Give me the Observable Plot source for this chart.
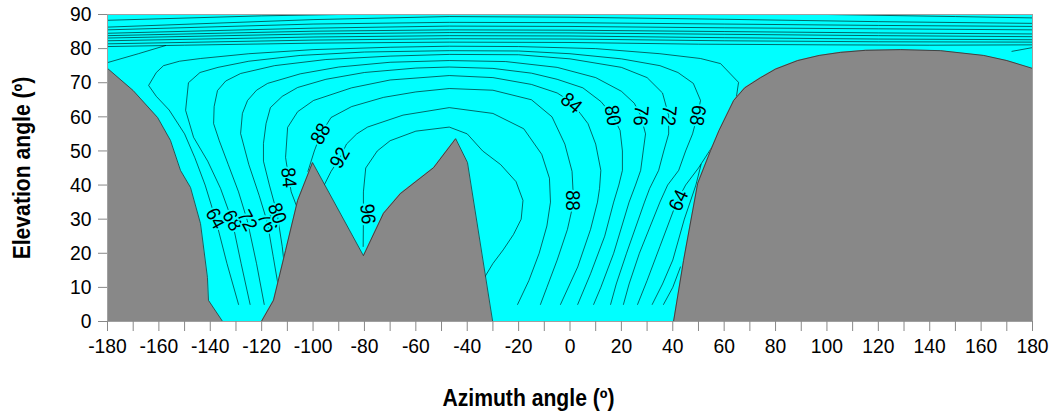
<!DOCTYPE html>
<html><head><meta charset="utf-8">
<script src="https://cdn.jsdelivr.net/npm/d3@7"></script>
<script src="https://cdn.jsdelivr.net/npm/@observablehq/plot@0.6"></script>
<style>
body{margin:0;background:#fff;}
#chart{width:1056px;height:414px;}
</style></head><body><div id="chart"></div>
<script>
// Horizon profile (azimuth º, elevation º)
const horizonAz = [-180,-170,-160.5,-155.5,-151.6,-147.7,-143.8,-141.1,-140.7,-135.2,-120.1,-115.4,-110.7,-106,-100.2,-80.4,-72.6,-66,-53.1,-44.5,-39.9,-30.1,40.3,44.2,49.7,54.7,58,63.7,68,74.2,80,88.6,97,105.3,115,128.7,144.2,161,170,180];
const horizonEl = [74.2,67.7,59.8,53.1,44.3,39.3,28.7,12.9,6.2,0,0,6.2,20.8,35.5,46.6,19.3,31.7,37.5,45.1,53.6,46.6,0,0,17.9,40.5,50.1,56,64.8,68.5,71.5,74,76.5,78,78.9,79.5,79.7,79.4,78,76.5,74.2];

// Contour lines [azimuth, elevation]
const c96 = [[-80.5,22],[-80.4,30],[-80.4,38],[-79.5,45],[-75,50],[-70,53],[-60,55.8],[-47,57],[-40,55],[-34,50],[-27,46],[-21,41],[-18.3,35.5],[-19,30],[-22,25.5],[-26,21],[-30,17],[-34,12]];
const c92 = [[-97,38],[-93,44],[-89.5,48],[-87,52],[-83,55],[-78.8,57],[-65,60.5],[-47,62.7],[-30,61],[-18,56.5],[-11,49],[-8,42],[-7.6,35],[-9,28],[-12,20],[-16,12],[-20.4,5]];
const c88 = [[-102,44],[-99.5,50],[-97,55],[-93,59.8],[-85,63],[-72.6,65.7],[-60,67.3],[-47,68.3],[-30,67.8],[-15,65],[-7,60],[-2,52],[0.8,44],[1.4,35],[-1,27],[-5,18],[-9,10],[-11.5,5]];
const c84 = [[-106,33],[-108.5,38],[-109.5,42.2],[-110.7,48.1],[-109.9,56.9],[-106,61.5],[-99.8,64.8],[-85,68.5],[-70,70.8],[-47,72.1],[-30,71.5],[-15,69.5],[-5,67],[0.2,64.5],[4,61],[7,58],[10,52],[12,44.3],[11.5,39],[10.7,35],[8,27],[3,16],[-3.7,5]];
const c80 = [[-110.5,12],[-112,22],[-114,31.7],[-117,40],[-119.3,47],[-119.3,52.2],[-118.3,58],[-116.6,62.7],[-112,66],[-106,68.6],[-95,71],[-80,73],[-60,74.3],[-47,74.6],[-30,74.2],[-15,72.8],[-5,71],[5,68.5],[12,64.5],[16.6,60.4],[19.5,56],[20.4,50],[20.4,44.3],[19,40],[17,35],[13.5,25],[8,14],[3,5]];
const c76 = [[-113,8],[-115.5,19],[-117.8,29.1],[-121,37],[-125,46],[-128.2,55.1],[-127.5,61],[-125.5,64.8],[-122,67.8],[-117.7,69.8],[-105,72.6],[-90,74.6],[-70,76],[-47,76.5],[-25,76.2],[-5,74.5],[10,71.5],[20,67.5],[25,64],[27.5,60.4],[29.4,55],[28.5,50],[27.5,44.3],[25.5,40],[23,35],[17,20],[12,10],[9.2,5]];
const c72 = [[-119,5],[-122,17],[-125.6,29.6],[-129,38],[-133,46],[-136.5,53],[-138.7,58],[-138.5,63],[-137.2,67.7],[-134,70.5],[-128.2,72.7],[-115,75],[-95,76.8],[-70,77.8],[-47,78.3],[-20,78.2],[0,77],[20,74.5],[30,71.5],[36,67],[38.4,60.4],[38.4,55],[36.5,50],[34.5,44.3],[31,39],[29,35],[22,20],[18,11],[15.8,5]];
const c68 = [[-124.5,5],[-128,17],[-131.5,29.6],[-136,39],[-141,47],[-146.5,54],[-149.6,61.9],[-148.5,70],[-144,73],[-137,74.5],[-125,76.3],[-105,78],[-80,79],[-47,79.4],[-20,79.3],[0,78.5],[20,77],[35,75],[42,73],[48,69.8],[50.8,64.8],[49.6,60.4],[47.7,55],[45,50],[42.3,44.3],[38,40],[35,35],[27,20],[23,11],[20.8,5]];
const c64 = [[-129,5],[-133.5,17],[-138,30.2],[-142,40],[-146,48],[-150,55],[-156,62],[-161,66],[-164,69.2],[-161,73],[-158.2,75],[-152,76.3],[-143.8,77.1],[-125,78.5],[-100,79.7],[-70,80.4],[-47,80.7],[-20,80.6],[10,80],[35,78.5],[50.8,77.1],[58.6,75.6],[65.6,70.1],[64,62],[56,52],[50,45],[45,40],[41.5,35],[35,22],[30,12],[26.3,5]];
const c60 = [[-180,80.6],[-150,81],[-100,81.6],[-47,81.9],[0,81.8],[50,81.3],[100,81.1],[140,81],[180,81.1]];
const c60b = [[32,5],[36,11],[40,18],[44.5,30],[49,40],[51,46]];
const c56 = [[-180,81.4],[-100,82.5],[-47,82.9],[0,82.8],[60,82.3],[120,82],[180,81.9]];
const c56b = [[36.4,5],[40,10],[43,16]];
const c52 = [[-180,82.3],[-100,83.4],[-47,83.8],[0,83.7],[60,83.2],[120,82.8],[180,82.6]];
const c48 = [[-180,83.1],[-100,84.3],[-47,84.7],[0,84.6],[60,84.2],[120,83.8],[180,83.5]];
const c44 = [[-180,83.8],[-100,85.1],[-47,85.5],[0,85.4],[60,85],[120,84.6],[180,84.3]];
const c40 = [[-180,84.5],[-100,86],[-47,86.6],[0,86.5],[60,86.1],[120,85.8],[180,85.5]];
const c36 = [[-180,85.5],[-100,87.2],[-47,87.7],[0,87.6],[60,87.2],[120,86.8],[180,86.5]];
const c32 = [[-180,86.3],[-100,88.5],[-47,89.4],[0,89.2],[60,88.6],[120,87.9],[180,87.4]];
const c28a = [[-180,88.3],[-120,89.6],[-90,90]];
const c28b = [[100,90],[150,89.4],[180,89]];
const c64c = [[-180,75.9],[-168,78.5],[-157.4,80.9]];
const c64d = [[172,79.2],[180,80.3]];

// Contour labels
const labelText = ["64","68","72","76","80","84","88","92","96","84","80","76","72","68","88","64"];
const labelAz   = [-138,-131.5,-125.6,-117.8,-114,-109.5,-97,-89.5,-78.8,0.5,16.6,27.5,38.4,49.6,1,42.3];
const labelEl   = [30.2,29.6,29.6,29.1,31.7,42.2,55,48,31.5,64,60.4,60.4,60.4,60.4,35.5,35.5];
const labelRot  = [62,62,62,62,70,85,-60,-60,85,40,80,95,95,100,90,-65];

const xTicks = d3.range(-180, 181, 10);
const yTicks = d3.range(0, 91, 10);

const lines = [c96,c92,c88,c84,c80,c76,c72,c68,c64,c60,c60b,c56,c56b,c52,c48,c44,c40,c36,c32,c28a,c28b,c64c,c64d];
const lineRows = lines.flatMap((pts, i) => pts.map(([az, el]) => ({id: i, az, el})));
const horizonRows = horizonAz.map((az, i) => ({az, el: horizonEl[i]}));
const labelRows = labelText.map((t, i) => ({t, az: labelAz[i], el: labelEl[i], r: labelRot[i]}));

const font = "'Liberation Sans', Arial, sans-serif";
const chart = Plot.plot({
  width: 1056, height: 414,
  marginLeft: 107, marginRight: 24, marginTop: 14, marginBottom: 93,
  x: {domain: [-180, 180]},
  y: {domain: [0, 90]},
  style: {fontFamily: font, fontSize: "21px", color: "#000", background: "#fff"},
  marks: [
    Plot.frame({fill: "#00ffff", stroke: "none"}),
    Plot.line(lineRows, {x: "az", y: "el", z: "id", stroke: "#000", strokeWidth: 0.6}),
    Plot.areaY(horizonRows, {x: "az", y: "el", fill: "#888888"}),
    Plot.line(horizonRows, {x: "az", y: "el", stroke: "#303030", strokeWidth: 0.8}),
    Plot.text(labelRows, {x: "az", y: "el", text: "t", rotate: "r", fill: "#000", stroke: "#00ffff", strokeWidth: 4, fontSize: 20}),
    Plot.frame({stroke: "#a0a0a0"}),
    Plot.axisX({ticks: xTicks, tickFormat: d => d % 20 === 0 ? String(d) : "", tickSize: 10, tickPadding: 7, stroke: "#888", label: null, fontSize: 21}),
    Plot.axisY({ticks: yTicks, tickSize: 9, tickPadding: 7, stroke: "#888", label: null, fontSize: 21}),
    Plot.text(["Azimuth angle (º)"], {frameAnchor: "bottom", dx: -41.5, dy: 77, lineAnchor: "middle", textAnchor: "middle", fontWeight: "bold", fontSize: 23}),
    Plot.text(["Elevation angle (º)"], {frameAnchor: "left", dx: -85, rotate: -90, textAnchor: "middle", lineAnchor: "middle", fontWeight: "bold", fontSize: 23})
  ]
});
// the reference lettering is slightly condensed horizontally
chart.querySelectorAll("text").forEach(t => {
  if (t.hasAttribute("x") && +t.getAttribute("x") !== 0) return;
  const tr = t.getAttribute("transform") || "";
  t.setAttribute("transform", tr + " scale(0.92,1)");
});
document.getElementById("chart").append(chart);
</script></body></html>
